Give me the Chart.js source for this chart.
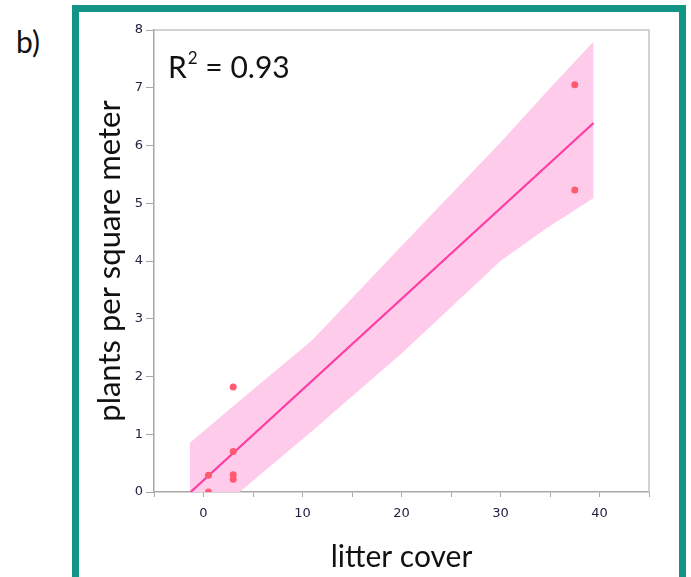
<!DOCTYPE html>
<html>
<head>
<meta charset="utf-8">
<script src="https://cdn.jsdelivr.net/npm/chart.js@4.4.1/dist/chart.umd.min.js"></script>
<style>
  html, body { margin: 0; padding: 0; background: #fff; overflow: hidden; }
  #wrap { position: relative; width: 691px; height: 577px; }
  #frame { position: absolute; left: 72px; top: 5px; width: 600px; height: 620px;
           border: 7px solid #129487; pointer-events: none; }
  #panel { position: absolute; left: 16px; top: 23px; font: 30px Lato, sans-serif;
           line-height: 36px; color: #111; }
  canvas { position: absolute; left: 0; top: 0; }
</style>
</head>
<body>
<div id="wrap">
  <div id="panel">b)</div>
  <canvas id="myChart" width="691" height="577"></canvas>
  <div id="frame"></div>
</div>
<script>
// observed points
const litterCover = [0.5, 0.5, 3, 3, 3, 3, 37.5, 37.5];
const plantsPerM2 = [0, 0.29, 0.22, 0.3, 0.7, 1.82, 5.23, 7.05];

// fitted line
const fitX = [-1.3, 39.4];
const fitY = [0, 6.39];

// confidence band edges
const bandX = [-1.4, 3.65, 11, 20, 30, 34.5, 39.4];
const bandUpper = [0.85, 1.58, 2.63, 4.26, 6.05, 6.9, 7.8];
const bandLower = [-0.87, 0, 1.06, 2.4, 4.0, 4.55, 5.09];

// axis ticks
const xLabelled = [0, 10, 20, 30, 40];
const yTicks = [0, 1, 2, 3, 4, 5, 6, 7, 8];

const toXY = (xs, ys) => xs.map((x, i) => ({ x: x, y: ys[i] }));

const boxAndLabel = {
  id: 'boxAndLabel',
  afterDraw(chart) {
    const { ctx, chartArea } = chart;
    ctx.save();
    ctx.strokeStyle = '#c4c4c4';
    ctx.lineWidth = 1.5;
    ctx.beginPath();
    ctx.moveTo(chartArea.left, chartArea.top);
    ctx.lineTo(chartArea.right, chartArea.top);
    ctx.lineTo(chartArea.right, chartArea.bottom);
    ctx.stroke();

    ctx.fillStyle = '#111';
    ctx.textBaseline = 'alphabetic';
    let x = chartArea.left + 14, y = chartArea.top + 48;
    ctx.font = '30px Lato';
    ctx.fillText('R', x, y);
    x += ctx.measureText('R').width + 1;
    ctx.font = '17px Lato';
    ctx.fillText('2', x, y - 14);
    x += ctx.measureText('2').width;
    ctx.font = '30px Lato';
    ctx.fillText(' = 0.93', x, y);
    ctx.restore();
  }
};

const ctx = document.getElementById('myChart');

new Chart(ctx, {
  type: 'scatter',
  data: {
    datasets: [
      {
        data: toXY(litterCover, plantsPerM2),
        backgroundColor: '#ff5a70',
        borderWidth: 0,
        pointRadius: 3.5,
        clip: 0,
      },
      {
        data: toXY(fitX, fitY),
        showLine: true,
        borderColor: '#ff3aa2',
        borderWidth: 2.2,
        pointRadius: 0,
      },
      {
        data: toXY(bandX, bandUpper),
        showLine: true,
        borderWidth: 0,
        borderColor: 'rgba(0,0,0,0)',
        backgroundColor: '#ffcbea',
        pointRadius: 0,
        fill: '+1',
      },
      {
        data: toXY(bandX, bandLower),
        showLine: true,
        borderWidth: 0,
        borderColor: 'rgba(0,0,0,0)',
        pointRadius: 0,
      },
    ],
  },
  options: {
    responsive: false,
    animation: false,
    events: [],
    layout: { padding: { left: 91, top: 30, right: 42, bottom: 0 } },
    plugins: {
      legend: { display: false },
      tooltip: { enabled: false },
    },
    scales: {
      x: {
        type: 'linear',
        min: -5,
        max: 45,
        afterFit: (s) => { s.height = 85; },
        border: { color: '#a8a8a8', width: 1.5 },
        grid: { drawOnChartArea: false, color: '#a8a8a8', tickLength: 5 },
        ticks: {
          stepSize: 5,
          padding: 9,
          maxRotation: 0,
          autoSkip: false,
          color: '#222244',
          font: { family: 'DejaVu Sans', size: 13 },
          callback: (v) => (xLabelled.includes(v) ? String(v) : ''),
        },
        title: {
          display: true,
          text: 'litter cover',
          color: '#111',
          font: { family: 'Lato', size: 30 },
          padding: { top: 0, bottom: 2 },
        },
      },
      y: {
        min: 0,
        max: 8,
        afterFit: (s) => { s.width = 63; },
        border: { color: '#a8a8a8', width: 1.5 },
        grid: { drawOnChartArea: false, color: '#a8a8a8', tickLength: 8 },
        ticks: {
          stepSize: 1,
          padding: 3,
          color: '#222244',
          font: { family: 'DejaVu Sans', size: 13 },
          callback: (v) => (yTicks.includes(v) ? String(v) : ''),
        },
        title: {
          display: true,
          text: 'plants per square meter',
          color: '#111',
          font: { family: 'Lato', size: 31 },
          padding: { top: 0, bottom: 0 },
        },
      },
    },
  },
  plugins: [boxAndLabel],
});
</script>
</body>
</html>
